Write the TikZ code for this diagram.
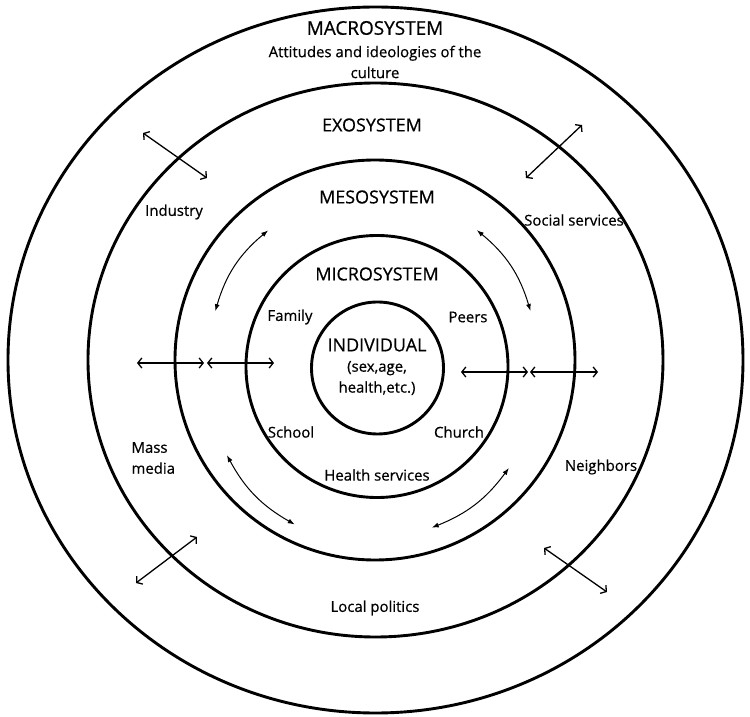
\documentclass[tikz,border=0pt]{standalone}
\usepackage{fontspec}
\setmainfont{Open Sans}[FakeBold=0.6]
\usetikzlibrary{arrows.meta}

\begin{document}
\begin{tikzpicture}[x=1bp,y=1bp,
  ring/.style={line width=2.9bp},
  twoway/.style={line width=1.3bp,{Straight Barb[length=4bp,width=10bp]}-{Straight Barb[length=4bp,width=10bp]}},
  curvy/.style={line width=1bp,{Latex[length=7bp,width=5bp]}-{Latex[length=7bp,width=5bp]}},
  sysname/.style={font=\fontsize{18}{21}\selectfont},
  place/.style={font=\fontsize{15}{21}\selectfont}]

	\useasboundingbox (-375,-357) rectangle (375,360);

	% the systems, from the outside in
	\draw[ring] (0.5,0) ellipse [x radius=367.5, y radius=353];
	\draw[ring] (0.5,0) ellipse [x radius=287.5, y radius=277];
	\draw[ring] (0,0) circle [radius=200];
	\draw[ring] (2,-6.5) circle [radius=131];
	\draw[ring] (2.5,-8) circle [radius=66];

	% names of the systems
	\node[sysname,font=\fontsize{19}{21}\selectfont] (macro) at (0,332) {MACROSYSTEM};
	\node[place,align=center] (macrotext) at (0,298) {Attitudes and ideologies of the\\culture};
	\node[sysname] (exo) at (-3,235) {EXOSYSTEM};
	\node[sysname] (meso) at (2,163) {MESOSYSTEM};
	\node[sysname] (micro) at (2,86) {MICROSYSTEM};
	\node[sysname] (individual) at (2,15) {INDIVIDUAL};
	\node[place,align=center] (traits) at (2,-18) {(sex,age,\\health,etc.)};

	% microsystem
	\node[place] (family) at (-85,43) {Family};
	\node[place] (peers) at (93,43) {Peers};
	\node[place] (school) at (-84,-72) {School};
	\node[place] (church) at (84,-72) {Church};
	\node[place] (health) at (2,-115) {Health services};

	% exosystem
	\node[place] (industry) at (-201,148) {Industry};
	\node[place] (social) at (199,140) {Social services};
	\node[place,align=left,anchor=west] (massmedia) at (-247,-98) {Mass\\media};
	\node[place] (neighbors) at (226,-107) {Neighbors};
	\node[place] (politics) at (0,-248) {Local politics};

	% end points of the arrows
	\path
	  (-232,227) coordinate (indA) (-168,182) coordinate (indB)
	  (207,235) coordinate (socA) (151,182) coordinate (socB)
	  (-178,-177) coordinate (masA) (-239,-223) coordinate (masB)
	  (169,-188) coordinate (neiA) (232,-232) coordinate (neiB)
	  (-238,-3) coordinate (leftA) (-171,-3) coordinate (leftB)
	  (-168,-3) coordinate (leftC) (-101,-3) coordinate (leftD)
	  (86,-12) coordinate (rightA) (153,-12) coordinate (rightB)
	  (155,-12) coordinate (rightC) (223,-12) coordinate (rightD);

	% arrows across the rings
	\foreach \From/\To in {indA/indB,socA/socB,masA/masB,neiA/neiB,
	  leftA/leftB,leftC/leftD,rightA/rightB,rightC/rightD}
	  \draw[twoway] (\From) -- (\To);

	% arrows along the mesosystem
	\draw[curvy] (129.5:168) coordinate (mesoUL) to[bend right=17] (163:167);
	\draw[curvy] (51.9:165) coordinate (mesoUR) to[bend left=17] (17.5:163);
	\draw[curvy] (212.7:176) coordinate (mesoLL) to[bend right=16] (244:183);
	\draw[curvy] (-38.9:172) coordinate (mesoLR) to[bend left=16] (-71.3:177);
\end{tikzpicture}
\end{document}
